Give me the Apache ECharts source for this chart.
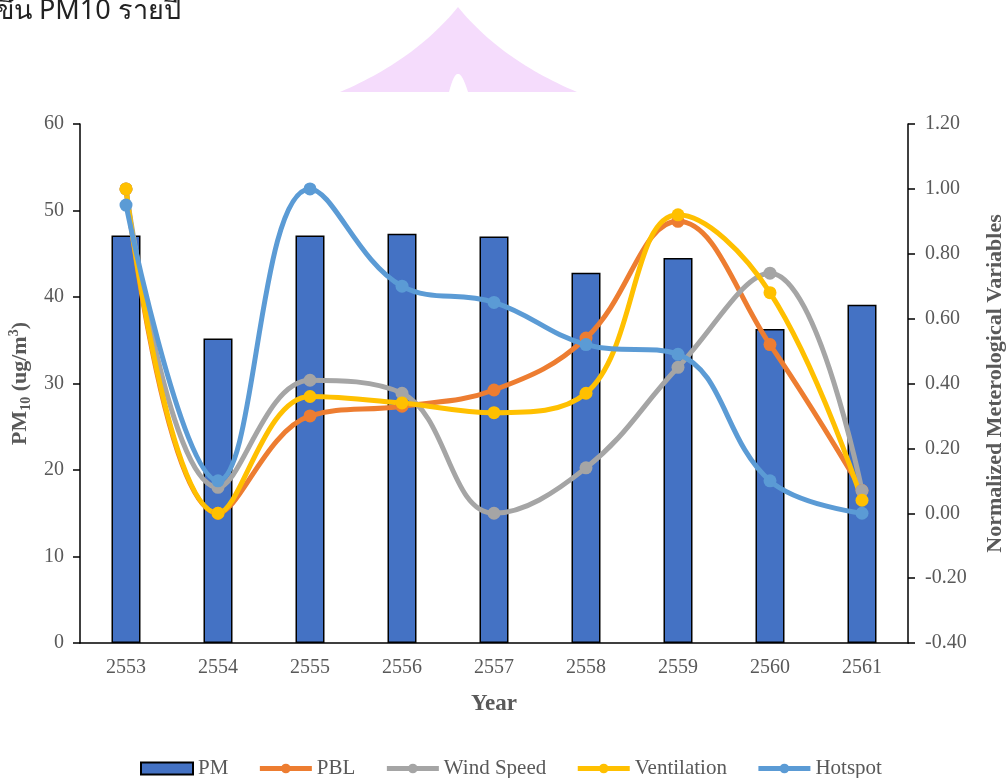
<!DOCTYPE html>
<html>
<head>
<meta charset="utf-8">
<script src="https://cdn.jsdelivr.net/npm/echarts@6/dist/echarts.min.js"></script>
<style>html,body{margin:0;padding:0;background:#fff;}#c{width:1008px;height:778px;}</style>
</head>
<body>
<div id="c"></div>
<script>
const years = ['2553','2554','2555','2556','2557','2558','2559','2560','2561'];
const pm = [47.1, 35.2, 47.1, 47.3, 47.0, 42.8, 44.5, 36.3, 39.1];
const pbl = [1.00, 0.00, 0.30, 0.33, 0.38, 0.54, 0.90, 0.52, 0.07];
const wind = [1.00, 0.08, 0.41, 0.37, 0.00, 0.14, 0.45, 0.74, 0.07];
const vent = [1.00, 0.00, 0.36, 0.34, 0.31, 0.37, 0.92, 0.68, 0.04];
const hotspot = [0.95, 0.10, 1.00, 0.70, 0.65, 0.52, 0.49, 0.10, 0.00];

const serif = '"Liberation Serif", "Times New Roman", serif';
const grey = '#595959';

// decorative pink shape (background watermark)
function quad(p0, c, p1, n) {
  const out = [];
  for (let i = 0; i <= n; i++) {
    const t = i / n, u = 1 - t;
    out.push([u*u*p0[0] + 2*u*t*c[0] + t*t*p1[0], u*u*p0[1] + 2*u*t*c[1] + t*t*p1[1]]);
  }
  return out;
}
const deco = [].concat(
  quad([340, 92], [415, 60], [458, 7], 30),
  quad([458, 7], [501, 60], [577, 92], 30).slice(1),
  [[468, 92]],
  quad([468, 92], [462, 73], [458, 74], 8).slice(1),
  quad([458, 74], [454, 73], [449, 92], 8).slice(1)
);

const chart = echarts.init(document.getElementById('c'), null, {renderer: 'canvas'});

function lineSeries(name, data, color) {
  return {
    name: name, type: 'line', yAxisIndex: 1, data: data,
    smooth: 0.4, symbol: 'circle', symbolSize: 13,
    lineStyle: {width: 5, color: color}, itemStyle: {color: color},
    emphasis: {disabled: true}
  };
}

chart.setOption({
  animation: false,
  backgroundColor: '#fff',
  textStyle: {fontFamily: serif},
  graphic: [
    {
      type: 'polygon', silent: true, z: -10,
      shape: {points: deco},
      style: {fill: '#F5DCFC'}
    },
    {
      type: 'text', left: -4, top: -2, silent: true,
      style: {text: 'ขึ้น PM10 รายปี', font: '27px "Noto Sans", "DejaVu Sans", sans-serif', fill: '#222'}
    }
  ],
  grid: {left: 80, right: 100, top: 124, bottom: 135, containLabel: false, outerBoundsMode: 'none'},
  legend: {
    top: 753, left: 135, itemWidth: 52, itemHeight: 12, itemGap: 29,
    textStyle: {fontFamily: serif, fontSize: 21, color: grey},
    lineStyle: {width: 5},
    data: [
      {name: 'PM', icon: 'rect'},
      'PBL', 'Wind Speed', 'Ventilation', 'Hotspot'
    ]
  },
  xAxis: {
    type: 'category', data: years,
    name: 'Year', nameLocation: 'middle', nameGap: 50,
    nameTextStyle: {fontFamily: serif, fontSize: 23, fontWeight: 'bold', color: grey},
    axisLine: {lineStyle: {color: '#000', width: 1.5}},
    axisTick: {show: false},
    axisLabel: {fontFamily: serif, fontSize: 20, color: grey, margin: 15}
  },
  yAxis: [
    {
      type: 'value', min: 0, max: 60, interval: 10,
      name: '{b|PM}{s|10}{b| (ug/m}{p|3}{b|)}', nameLocation: 'middle', nameGap: 42, nameRotate: 90,
      nameTextStyle: {
        fontFamily: serif, fontSize: 22, fontWeight: 'bold', color: grey,
        rich: {
          b: {fontFamily: serif, fontSize: 22, fontWeight: 'bold', color: grey, lineHeight: 26, verticalAlign: 'middle'},
          s: {fontFamily: serif, fontSize: 14, fontWeight: 'bold', color: grey, lineHeight: 26, verticalAlign: 'bottom'},
          p: {fontFamily: serif, fontSize: 14, fontWeight: 'bold', color: grey, lineHeight: 26, verticalAlign: 'top'}
        }
      },
      axisLine: {show: true, lineStyle: {color: '#000', width: 1.5}},
      axisTick: {show: true, length: 7, lineStyle: {color: '#000', width: 1.5}},
      axisLabel: {fontFamily: serif, fontSize: 20, color: grey, margin: 16},
      splitLine: {show: false}
    },
    {
      type: 'value', min: -0.4, max: 1.2, interval: 0.2, position: 'right',
      name: 'Normalized Meterological Variables', nameLocation: 'middle', nameGap: 76, nameRotate: 90,
      nameTextStyle: {fontFamily: serif, fontSize: 22, fontWeight: 'bold', color: grey},
      axisLine: {show: true, lineStyle: {color: '#000', width: 1.5}},
      axisTick: {show: true, length: 7, lineStyle: {color: '#000', width: 1.5}},
      axisLabel: {fontFamily: serif, fontSize: 20, color: grey, margin: 17,
        formatter: v => v.toFixed(2)},
      splitLine: {show: false}
    }
  ],
  series: [
    {
      name: 'PM', type: 'bar', data: pm, barWidth: 29, yAxisIndex: 0,
      itemStyle: {color: '#4472C4', borderColor: '#000', borderWidth: 1.5},
      emphasis: {disabled: true}
    },
    lineSeries('PBL', pbl, '#ED7D31'),
    lineSeries('Wind Speed', wind, '#A5A5A5'),
    lineSeries('Ventilation', vent, '#FFC000'),
    lineSeries('Hotspot', hotspot, '#5B9BD5')
  ]
});
</script>
</body>
</html>
